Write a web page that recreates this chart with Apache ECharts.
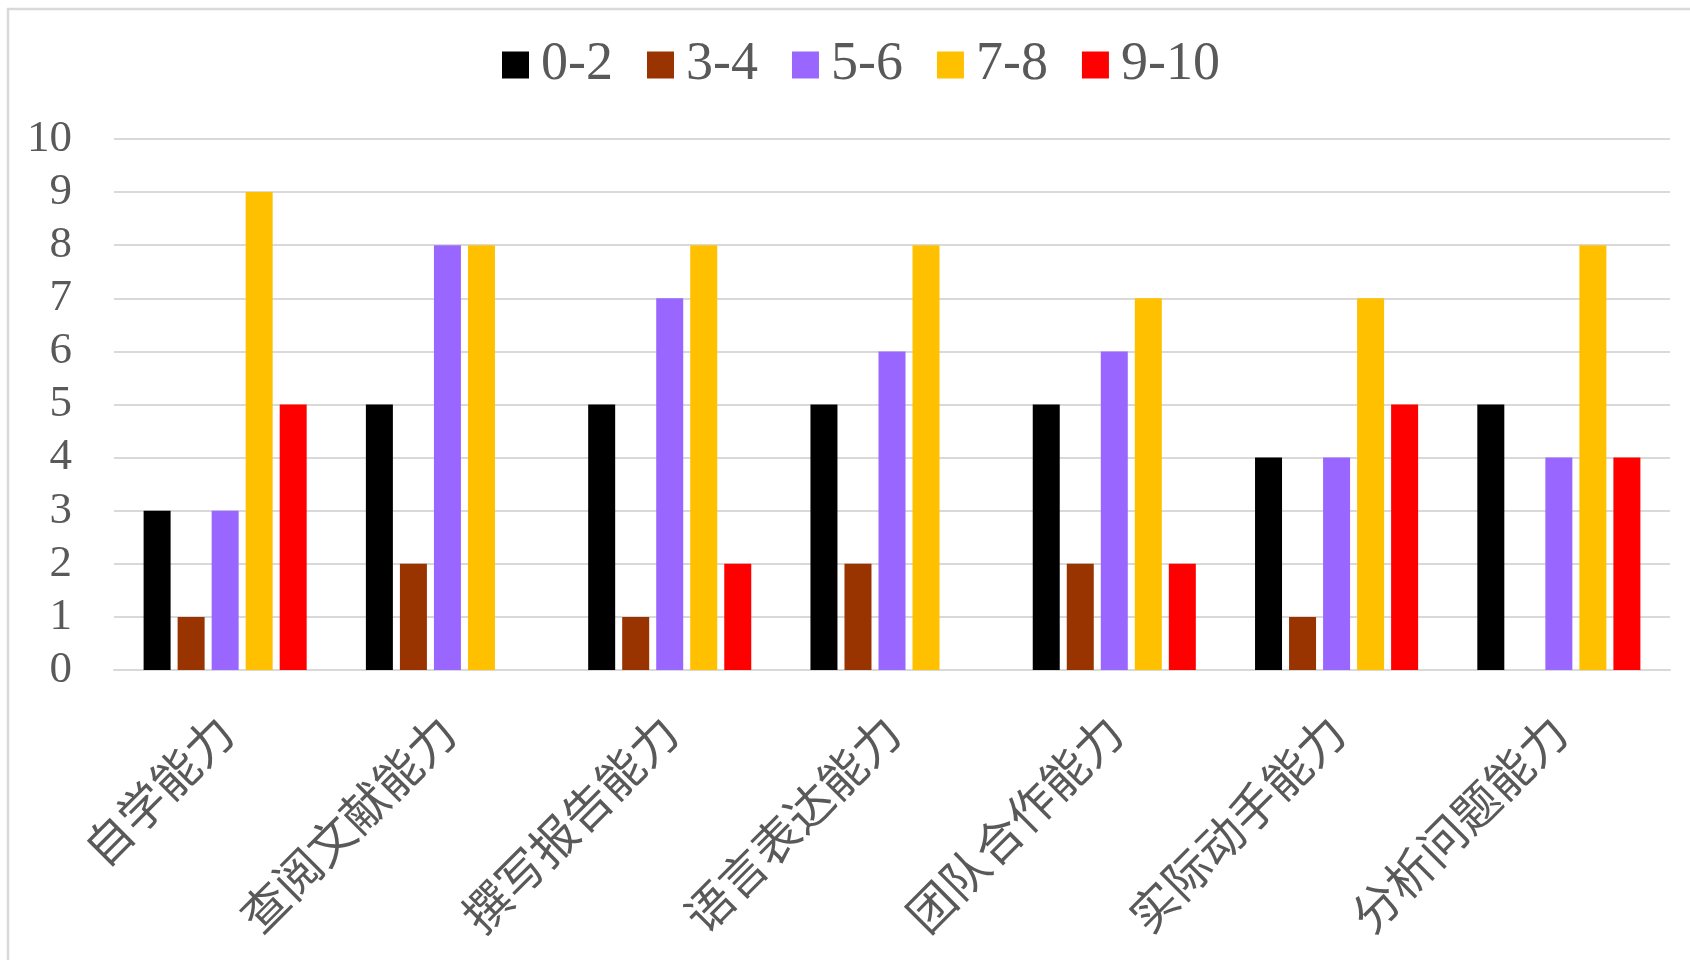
<!DOCTYPE html>
<html>
<head>
<meta charset="utf-8">
<script src="https://cdn.jsdelivr.net/npm/echarts@6/dist/echarts.min.js"></script>
<style>
html,body{margin:0;padding:0;background:#fff;}
#main{width:1690px;height:960px;}
</style>
</head>
<body>
<div id="main"></div>
<script>
var categories = ['自学能力','查阅文献能力','撰写报告能力','语言表达能力','团队合作能力','实际动手能力','分析问题能力'];
var seriesNames = ['0-2','3-4','5-6','7-8','9-10'];
var s0_2  = [3,5,5,5,5,4,5];
var s3_4  = [1,2,1,2,2,1,0];
var s5_6  = [3,8,7,6,6,4,4];
var s7_8  = [9,8,8,8,7,7,8];
var s9_10 = [5,0,2,0,2,5,4];
var yTicks = [0,1,2,3,4,5,6,7,8,9,10];
var colors = ['#000000','#993300','#9966FF','#FFC000','#FF0000'];
var allValues = [s0_2,s3_4,s5_6,s7_8,s9_10];
var serif = '"Liberation Serif", "Times New Roman", serif';

var chart = echarts.init(document.getElementById('main'));
var series = seriesNames.map(function(n,i){
  return {
    name:n, type:'bar', data:allValues[i],
    barWidth:27, barGap:'26%',
    itemStyle:{color:colors[i]}
  };
});
chart.setOption({
  animation:false,
  backgroundColor:'#fff',
  graphic:[{type:'rect',shape:{x:8,y:9,width:1720,height:1000},style:{fill:'none',stroke:'#d9d9d9',lineWidth:2.5},silent:true}],
  legend:{
    left:497, top:33, itemWidth:27, itemHeight:27, itemGap:34,
    icon:'rect',
    textStyle:{fontFamily:serif,fontSize:54,color:'#595959',padding:[0,0,0,7]},
    data:seriesNames
  },
  grid:{left:114,right:20,top:139,bottom:290},
  xAxis:{
    type:'category', data:categories,
    axisLine:{lineStyle:{color:'#d9d9d9',width:2}},
    axisTick:{show:false},
    axisLabel:{rotate:45,interval:0,margin:54,fontFamily:'"Noto Sans CJK SC"',fontSize:47,color:'#595959'}
  },
  yAxis:{
    type:'value', min:yTicks[0], max:yTicks[yTicks.length-1], interval:1,
    axisLine:{show:false}, axisTick:{show:false},
    splitLine:{lineStyle:{color:'#d9d9d9',width:2}},
    axisLabel:{margin:42,fontFamily:serif,fontSize:45,color:'#595959'}
  },
  series:series
});
</script>
</body>
</html>
